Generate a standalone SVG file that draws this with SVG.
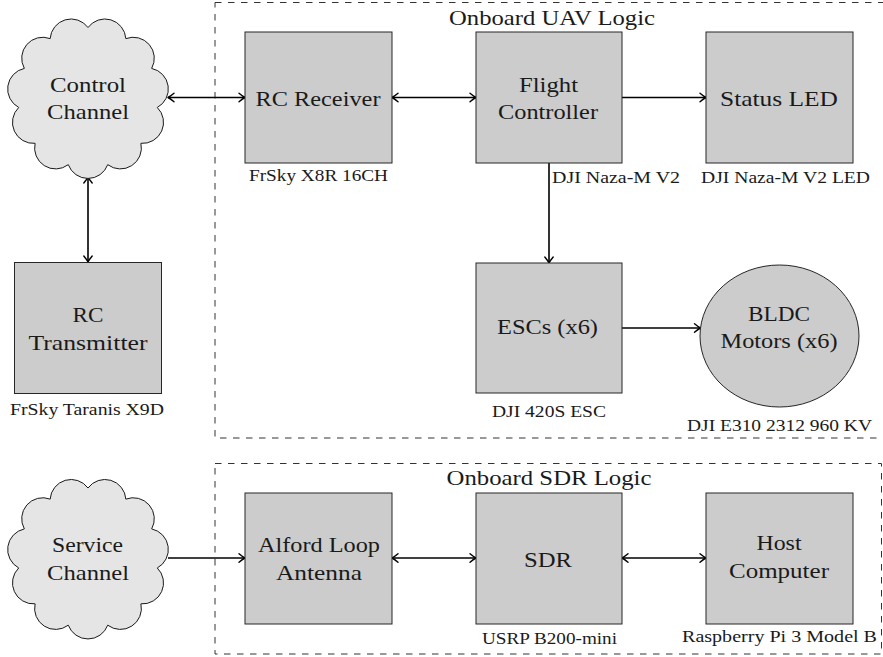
<svg xmlns="http://www.w3.org/2000/svg" width="883" height="657" viewBox="0 0 883 657">
  <style>
    .box { fill: #cccccc; stroke: #262626; stroke-width: 1; }
    .cloud { fill: #e5e5e5; stroke: #1a1a1a; stroke-width: 1; }
    .group { fill: none; stroke: #333333; stroke-width: 1; stroke-dasharray: 6.5 6.5; }
    .wire { fill: none; stroke: #000000; stroke-width: 1.6; }
    .one { marker-end: url(#tip); }
    .two { marker-start: url(#tip); marker-end: url(#tip); }
    text { fill: #1a1a1a; font-family: Liberation Serif, Times New Roman, Tinos, Nimbus Roman, FreeSerif, DejaVu Serif, serif; }
    .lbl { font-size: 22px; text-anchor: middle; }
    .cap { font-size: 16px; }
  </style>
  <defs>
    <marker id="tip" viewBox="-8 -6 10 12" refX="0" refY="0" markerWidth="10" markerHeight="12" markerUnits="userSpaceOnUse" orient="auto-start-reverse">
      <path d="M-6,-4.2 Q-2,-0.9 0,0 Q-2,0.9 -6,4.2" fill="none" stroke="#000" stroke-width="1.4" stroke-linecap="round" stroke-linejoin="round"/>
    </marker>
    <!-- eleven-puff cloud centred on the origin -->
    <path id="cloudShape" d="M0,-70 A21,21 0 0 1 37.84,-58.89 A21,21 0 0 1 63.67,-29.08 A21,21 0 0 1 69.29,9.96 A21,21 0 0 1 52.9,45.84 A21,21 0 0 1 19.72,67.17 A21,21 0 0 1 -19.72,67.17 A21,21 0 0 1 -52.9,45.84 A21,21 0 0 1 -69.29,9.96 A21,21 0 0 1 -63.67,-29.08 A21,21 0 0 1 -37.84,-58.89 A21,21 0 0 1 0,-70 Z"/>
  </defs>

  <!-- dashed groupings -->
  <g id="uav-logic">
    <rect class="group" x="215" y="2.5" width="672" height="435.5"/>
    <text class="lbl" x="552" y="25" textLength="206" lengthAdjust="spacingAndGlyphs">Onboard UAV Logic</text>
  </g>
  <g id="sdr-logic">
    <rect class="group" x="215" y="463.5" width="666.5" height="190.5"/>
    <text class="lbl" x="549" y="485" textLength="205" lengthAdjust="spacingAndGlyphs">Onboard SDR Logic</text>
  </g>

  <!-- connectors -->
  <g id="connectors">
    <line class="wire two" x1="168" y1="97.5" x2="245" y2="97.5"/>
    <line class="wire two" x1="88" y1="177" x2="88" y2="262"/>
    <line class="wire two" x1="392" y1="97.5" x2="476" y2="97.5"/>
    <line class="wire one" x1="622" y1="97.5" x2="706" y2="97.5"/>
    <line class="wire one" x1="549" y1="163" x2="549" y2="263"/>
    <line class="wire one" x1="622" y1="328" x2="700.5" y2="328"/>
    <line class="wire one" x1="168" y1="558" x2="245" y2="558"/>
    <line class="wire two" x1="392" y1="558" x2="476" y2="558"/>
    <line class="wire two" x1="622" y1="558" x2="706" y2="558"/>
  </g>

  <!-- nodes -->
  <g id="control-channel">
    <use href="#cloudShape" class="cloud" transform="translate(88,97.5)"/>
    <text class="lbl" x="88" y="92" textLength="76" lengthAdjust="spacingAndGlyphs">Control</text>
    <text class="lbl" x="88" y="119" textLength="82" lengthAdjust="spacingAndGlyphs">Channel</text>
  </g>
  <g id="rc-transmitter">
    <rect class="box" x="14.5" y="262.5" width="147" height="131"/>
    <text class="lbl" x="88" y="322" textLength="31" lengthAdjust="spacingAndGlyphs">RC</text>
    <text class="lbl" x="88" y="350" textLength="119" lengthAdjust="spacingAndGlyphs">Transmitter</text>
    <text class="cap" x="10" y="415" textLength="154" lengthAdjust="spacingAndGlyphs">FrSky Taranis X9D</text>
  </g>
  <g id="rc-receiver">
    <rect class="box" x="245" y="32" width="147" height="131"/>
    <text class="lbl" x="318" y="106" textLength="125" lengthAdjust="spacingAndGlyphs">RC Receiver</text>
    <text class="cap" x="249" y="181" textLength="139" lengthAdjust="spacingAndGlyphs">FrSky X8R 16CH</text>
  </g>
  <g id="flight-controller">
    <rect class="box" x="476" y="32" width="146" height="131"/>
    <text class="lbl" x="548.5" y="92" textLength="59" lengthAdjust="spacingAndGlyphs">Flight</text>
    <text class="lbl" x="548" y="119" textLength="100" lengthAdjust="spacingAndGlyphs">Controller</text>
    <text class="cap" x="552" y="183" textLength="128" lengthAdjust="spacingAndGlyphs">DJI Naza-M V2</text>
  </g>
  <g id="status-led">
    <rect class="box" x="706" y="32" width="147" height="131"/>
    <text class="lbl" x="779" y="106" textLength="118" lengthAdjust="spacingAndGlyphs">Status LED</text>
    <text class="cap" x="701" y="183" textLength="169" lengthAdjust="spacingAndGlyphs">DJI Naza-M V2 LED</text>
  </g>
  <g id="escs">
    <rect class="box" x="476" y="263" width="146" height="130"/>
    <text class="lbl" x="547.5" y="334" textLength="101" lengthAdjust="spacingAndGlyphs">ESCs (x6)</text>
    <text class="cap" x="492" y="417" textLength="114" lengthAdjust="spacingAndGlyphs">DJI 420S ESC</text>
  </g>
  <g id="bldc-motors">
    <ellipse class="box" cx="779.5" cy="336" rx="79.5" ry="71"/>
    <text class="lbl" x="779" y="321" textLength="62" lengthAdjust="spacingAndGlyphs">BLDC</text>
    <text class="lbl" x="779" y="348" textLength="117" lengthAdjust="spacingAndGlyphs">Motors (x6)</text>
    <text class="cap" x="687" y="431" textLength="185" lengthAdjust="spacingAndGlyphs">DJI E310 2312 960 KV</text>
  </g>
  <g id="service-channel">
    <use href="#cloudShape" class="cloud" transform="translate(88,558)"/>
    <text class="lbl" x="87.5" y="552" textLength="71" lengthAdjust="spacingAndGlyphs">Service</text>
    <text class="lbl" x="88" y="580" textLength="82" lengthAdjust="spacingAndGlyphs">Channel</text>
  </g>
  <g id="alford-loop-antenna">
    <rect class="box" x="245" y="493" width="147" height="131"/>
    <text class="lbl" x="319" y="552" textLength="122" lengthAdjust="spacingAndGlyphs">Alford Loop</text>
    <text class="lbl" x="319" y="580" textLength="86" lengthAdjust="spacingAndGlyphs">Antenna</text>
  </g>
  <g id="sdr">
    <rect class="box" x="476" y="493" width="146" height="131"/>
    <text class="lbl" x="548" y="567" textLength="48" lengthAdjust="spacingAndGlyphs">SDR</text>
    <text class="cap" x="482" y="644" textLength="135" lengthAdjust="spacingAndGlyphs">USRP B200-mini</text>
  </g>
  <g id="host-computer">
    <rect class="box" x="706" y="493" width="147" height="131"/>
    <text class="lbl" x="779" y="550" textLength="45" lengthAdjust="spacingAndGlyphs">Host</text>
    <text class="lbl" x="779" y="578" textLength="100" lengthAdjust="spacingAndGlyphs">Computer</text>
    <text class="cap" x="682" y="642" textLength="195" lengthAdjust="spacingAndGlyphs">Raspberry Pi 3 Model B</text>
  </g>
</svg>
